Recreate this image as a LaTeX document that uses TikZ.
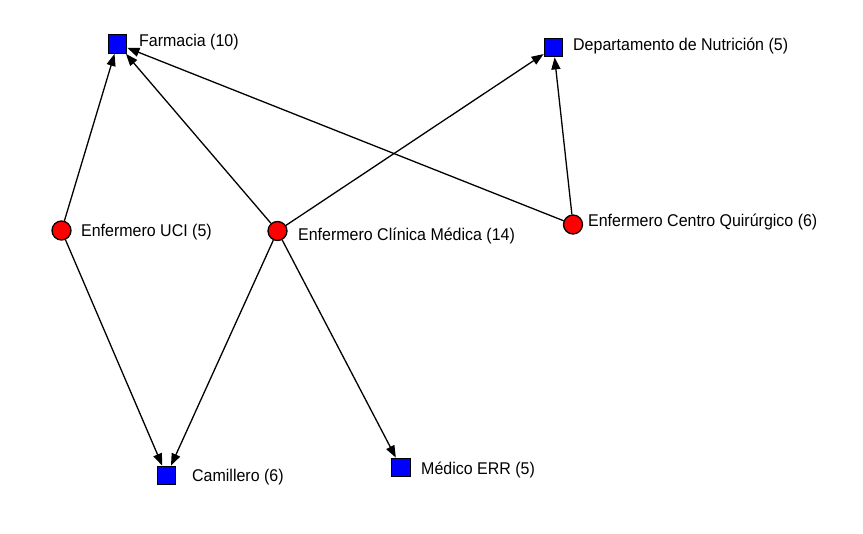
\documentclass[tikz,border=0pt]{standalone}
\usepackage{fontspec}
\setmainfont[FakeStretch=0.94]{Liberation Sans}
\usetikzlibrary{arrows.meta}
\tikzset{
  sq/.style={rectangle,draw=black,fill=blue,line width=1.3pt,minimum size=18.5pt,inner sep=0pt},
  ci/.style={circle,draw=black,fill=red,line width=1.3pt,minimum size=19pt,inner sep=0pt},
  lab/.style={anchor=west,inner sep=0pt,font=\fontsize{17pt}{19pt}\selectfont},
  arr/.style={line width=1.3pt,-{Triangle[length=12pt,width=9pt]}},
}
\begin{document}
\begin{tikzpicture}[x=1pt,y=-1pt]
\useasboundingbox[fill=white] (0,0) rectangle (863,534);
\node[sq] (far) at (117.5,44) {};
\node[sq] (nut) at (553.5,47.5) {};
\node[ci] (uci) at (61.5,230.5) {};
\node[ci] (cm) at (277.5,231) {};
\node[ci] (cq) at (573,224.5) {};
\node[sq] (cam) at (166.5,475.5) {};
\node[sq] (med) at (401,467.5) {};
\node[lab] (lfar) at (139,42.5) {Farmacia (10)};
\node[lab] (lnut) at (573,46) {Departamento de Nutrición (5)};
\node[lab] (luci) at (81,232.5) {Enfermero UCI (5)};
\node[lab] (lcm) at (298,236) {Enfermero Clínica Médica (14)};
\node[lab] (lcq) at (588,222.5) {Enfermero Centro Quirúrgico (6)};
\node[lab] (lcam) at (192,477) {Camillero (6)};
\node[lab] (lmed) at (421,470) {Médico ERR (5)};
\draw[arr] (uci) -- (far);
\draw[arr] (uci) -- (cam);
\draw[arr] (cm) -- (far);
\draw[arr] (cm) -- (nut);
\draw[arr] (cm) -- (cam);
\draw[arr] (cm) -- (med);
\draw[arr] (cq) -- (far);
\draw[arr] (cq) -- (nut);
\end{tikzpicture}
\end{document}
